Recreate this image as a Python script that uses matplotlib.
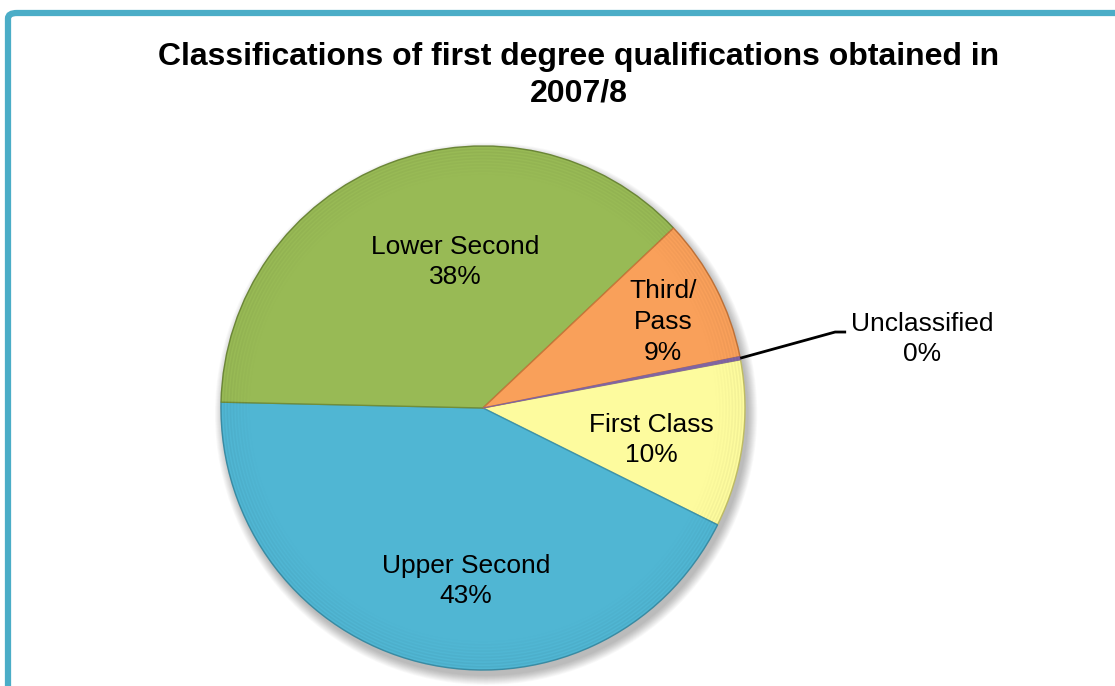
import matplotlib
matplotlib.use("Agg")
import matplotlib.pyplot as plt
import numpy as np
from matplotlib.patches import FancyBboxPatch, Circle

plt.rcParams['font.family'] = ['Liberation Sans', 'DejaVu Sans']

# ---- data ----
categories = ["First Class", "Upper Second", "Lower Second", "Third/\nPass", "Unclassified"]
values = [10.3, 43.0, 37.6, 8.9, 0.2]
colors = ["#FDFB9E", "#50B6D3", "#98BA55", "#F9A05A", "#8064A2"]
edge_colors = ["#C9C66A", "#3C93AC", "#718E3A", "#C9773A", "#8064A2"]
title = "Classifications of first degree qualifications obtained in\n2007/8"

# ---- layout ----
W, H = 1115, 686
cx, cy, R = 483, 408, 262  # pixel centre / radius
fig = plt.figure(figsize=(W / 100, H / 100), dpi=100)
ax = fig.add_axes([0, 0, 1, 1])

# soft shadow
for a in np.linspace(0.0, 1.0, 12):
    ax.add_patch(Circle((0.012, -0.022), 1.0 + 0.035 * (1 - a), color='black',
                        alpha=0.025, lw=0, zorder=0))

wedges, _ = ax.pie(values, colors=colors, startangle=10.6, counterclock=False,
                   radius=1.0, center=(0, 0), frame=True,
                   wedgeprops=dict(linewidth=1.0))
for w, ec in zip(wedges, edge_colors):
    w.set_edgecolor(ec)
    w.set_zorder(2)
wedges[4].set_linewidth(0.6)
ax.set_xlim(-cx / R, (W - cx) / R)
ax.set_ylim(-(H - cy) / R, cy / R)
ax.set_aspect('auto')
ax.axis('off')

# inner radial shading (darker near rim)
for k in range(10):
    r = 1.0 - 0.012 * k
    ax.add_patch(Circle((0, 0), r, fill=False, lw=1.2, ec='black',
                        alpha=0.05 * (1 - k / 10), zorder=3))

# labels
label_pos = [(0.641, -0.122), (-0.065, -0.660), (-0.107, 0.557), (0.687, 0.328), (1.676, 0.263)]
for cat, v, (lx, ly) in zip(categories, values, label_pos):
    ax.text(lx, ly, f"{cat}\n{round(v)}%", ha='center', va='center',
            fontsize=19, color='black', linespacing=1.35, zorder=5)

# leader line for Unclassified
w = wedges[4]
mid = np.deg2rad((w.theta1 + w.theta2) / 2)
sx, sy = np.cos(mid), np.sin(mid)
kx, ky = 1.344, 0.290
ax.plot([sx, kx, kx + 0.042], [sy, ky, ky], color='black', lw=2.0, zorder=4,
        solid_capstyle='butt', clip_on=False)

# title
fig.text(579 / W, 1 - 42 / H, title, ha='center', va='top', fontsize=23,
         fontweight='bold', linespacing=1.3)

# frame
frame = FancyBboxPatch((8 / W, -0.2), 1.2, 1 - 13 / H + 0.2,
                       boxstyle="round,pad=0,rounding_size=0.008",
                       transform=fig.transFigure, fill=False,
                       ec="#4BADC7", lw=4.5, zorder=10)
fig.patches.append(frame)

fig.savefig("out.png", dpi=100)
